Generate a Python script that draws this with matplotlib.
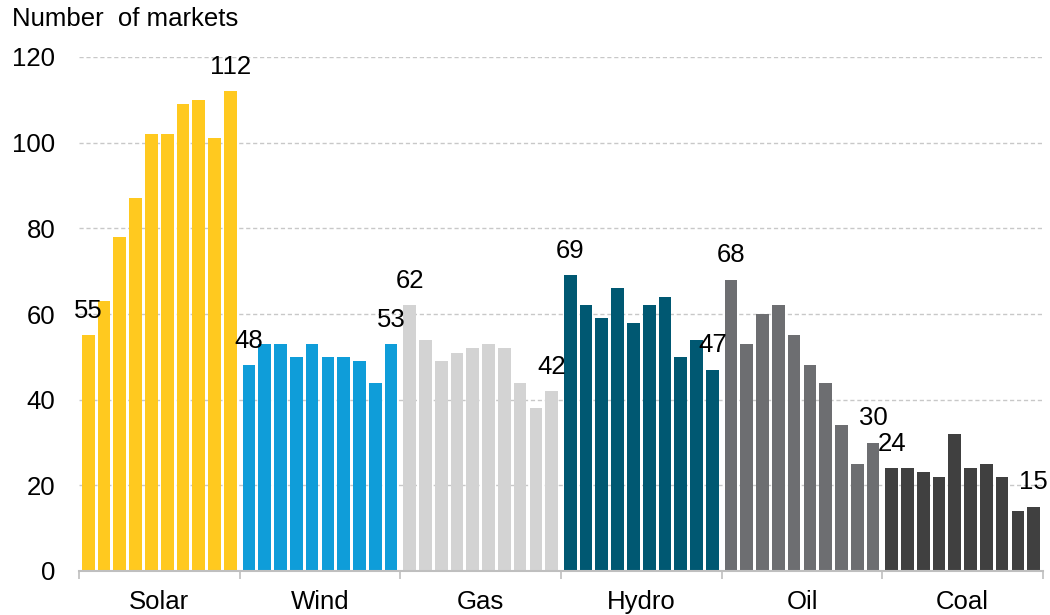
import matplotlib
matplotlib.use("Agg")
import matplotlib.pyplot as plt
import numpy as np

plt.rcParams['font.family'] = ['Liberation Sans', 'DejaVu Sans']

categories = ["Solar", "Wind", "Gas", "Hydro", "Oil", "Coal"]
solar = [55, 63, 78, 87, 102, 102, 109, 110, 101, 112]
wind = [48, 53, 53, 50, 53, 50, 50, 49, 44, 53]
gas = [62, 54, 49, 51, 52, 53, 52, 44, 38, 42]
hydro = [69, 62, 59, 66, 58, 62, 64, 50, 54, 47]
oil = [68, 53, 60, 62, 55, 48, 44, 34, 25, 30]
coal = [24, 24, 23, 22, 32, 24, 25, 22, 14, 15]
series = [solar, wind, gas, hydro, oil, coal]
colors = ["#FFC91F", "#0F9DD9", "#D3D3D3", "#005872", "#6D6E71", "#404040"]
yticks = [0, 20, 40, 60, 80, 100, 120]

fig = plt.figure(figsize=(10.5, 6.15), dpi=100)
ax = fig.add_axes([79/1050, 1-571/615, (1043-79)/1050, (571-57)/615])

pitch = 0.0983
width = 0.079
first = 0.0575
fs = 18.5

for i, (vals, c) in enumerate(zip(series, colors)):
    xs = i + first + pitch*np.arange(len(vals))
    ax.bar(xs, vals, width=width, color=c, zorder=3)
    for k in (0, len(vals)-1):
        ax.annotate(str(vals[k]), (xs[k], vals[k]), xytext=(0, 17.5),
                    textcoords='offset points', ha='center', va='center',
                    fontsize=fs, color='black', zorder=5)

ax.set_xlim(0, 6)
ax.set_ylim(0, 120)
ax.set_yticks(yticks)
ax.set_yticklabels([str(t) for t in yticks], fontsize=fs)
ax.tick_params(axis='y', length=0, pad=17)
ax.yaxis.grid(True, linestyle=(0, (3, 2)), color='#C8C8C8', linewidth=1.0, zorder=0)
ax.set_axisbelow(True)

ax.set_xticks(np.arange(0, 7))
ax.set_xticklabels([])
ax.tick_params(axis='x', which='major', length=6, width=1.2, color='#BFBFBF')
ax.set_xticks(np.arange(6) + 0.5, minor=True)
ax.set_xticklabels(categories, minor=True, fontsize=fs)
ax.tick_params(axis='x', which='minor', length=0, pad=14)

for s in ['left', 'right', 'top']:
    ax.spines[s].set_visible(False)
ax.spines['bottom'].set_color('#BFBFBF')
ax.spines['bottom'].set_linewidth(1.5)
ax.spines['bottom'].set_zorder(4)

fig.text(12/1050, 1-19/615, "Number  of markets", fontsize=fs, ha='left', va='center')

fig.savefig("out.png", dpi=100)
